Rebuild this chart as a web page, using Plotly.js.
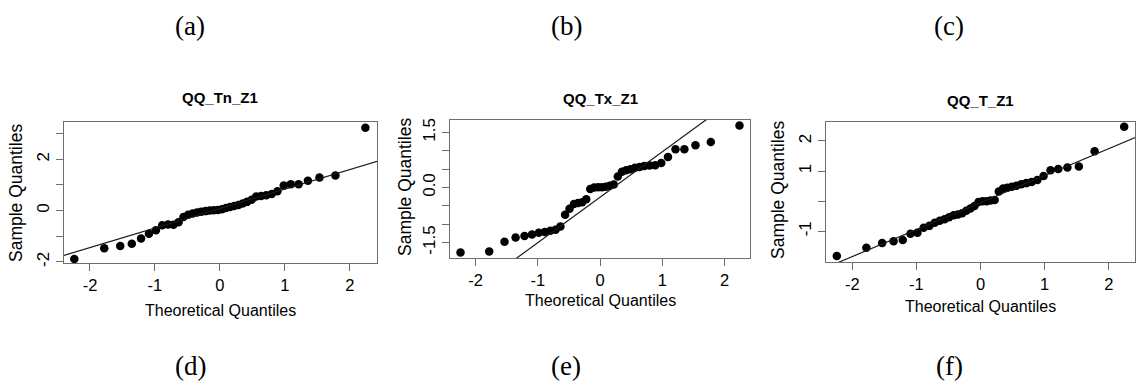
<!DOCTYPE html>
<html>
<head>
<meta charset="utf-8">
<script src="https://cdn.plot.ly/plotly-3.0.1.min.js"></script>
<style>
  html, body { margin: 0; padding: 0; background: #fff; }
  #chart { width: 1137px; height: 389px; }
</style>
</head>
<body>
<div id="chart"></div>
<script>
// Normal theoretical quantiles for 40 observations
const theoretical = [-2.241, -1.780, -1.534, -1.356, -1.213, -1.092, -0.984, -0.887, -0.798, -0.714,
                     -0.636, -0.561, -0.489, -0.419, -0.352, -0.286, -0.221, -0.157, -0.094, -0.031,
                      0.031,  0.094,  0.157,  0.221,  0.286,  0.352,  0.419,  0.489,  0.561,  0.636,
                      0.714,  0.798,  0.887,  0.984,  1.092,  1.213,  1.356,  1.534,  1.780,  2.241];

// Sorted sample values for each series
const sampleTn = [-1.88, -1.47, -1.38, -1.29, -1.09, -0.90, -0.76, -0.57, -0.54, -0.55,
                  -0.45, -0.25, -0.16, -0.11, -0.07, -0.04, -0.02,  0.00,  0.01,  0.02,
                   0.05,  0.10,  0.14,  0.18,  0.22,  0.28,  0.34,  0.42,  0.55,  0.57,
                   0.60,  0.65,  0.75,  0.98,  1.03,  1.03,  1.16,  1.29,  1.37,  3.23];
const sampleTx = [-1.77, -1.74, -1.48, -1.36, -1.32, -1.28, -1.23, -1.21, -1.18, -1.15,
                  -1.06, -0.74, -0.58, -0.45, -0.42, -0.40, -0.32, -0.04,  0.00,  0.01,
                   0.01,  0.02,  0.05,  0.08,  0.30,  0.43,  0.47,  0.50,  0.54,  0.56,
                   0.59,  0.60,  0.61,  0.67,  0.83,  1.04,  1.04,  1.15,  1.24,  1.69];
const sampleT  = [-1.82, -1.55, -1.39, -1.33, -1.29, -1.08, -1.05, -0.88, -0.82, -0.72,
                  -0.65, -0.60, -0.53, -0.47, -0.44, -0.40, -0.32, -0.24, -0.16, -0.03,
                   0.00,  0.00,  0.02,  0.04,  0.32,  0.42,  0.45,  0.48,  0.51,  0.56,
                   0.60,  0.64,  0.70,  0.84,  1.03,  1.07,  1.12,  1.15,  1.66,  2.47];

const panelTitles = ['QQ_Tn_Z1', 'QQ_Tx_Z1', 'QQ_T_Z1'];
const panelLetters = ['(a)', '(b)', '(c)', '(d)', '(e)', '(f)'];

// Reference line of each panel: intercept and slope
const lineIntercepts = [0.08, -0.265, -0.048];
const lineSlopes = [0.76, 1.238, 0.896];

const xTickVals = [-2, -1, 0, 1, 2];
const xTickText = ['-2', '-1', '0', '1', '2'];
const yTickValsTn = [-2, -1, 0, 1, 2, 3];
const yTickTextTn = ['-2', '', '0', '', '2', ''];
const yTickValsTx = [-1.5, -1, -0.5, 0, 0.5, 1, 1.5];
const yTickTextTx = ['-1.5', '', '', '0.0', '', '', '1.5'];
const yTickValsT = [-1, 0, 1, 2];
const yTickTextT = ['-1', '', '1', '2'];

// ---- layout geometry (pixels) ----
const W = 1137, H = 389;
const px = v => v / W;
const py = v => 1 - v / H;

const panels = [
  { samples: sampleTn, box: [64, 377, 122, 263], xr: [-2.40, 2.42], yr: [-2.04, 3.45],
    yv: yTickValsTn, yt: yTickTextTn, titleY: 97, xLabY: 310, yLabX: 16, yLabY: 193 },
  { samples: sampleTx, box: [450, 750, 120, 258], xr: [-2.41, 2.41], yr: [-1.92, 1.84],
    yv: yTickValsTx, yt: yTickTextTx, titleY: 99, xLabY: 300, yLabX: 405, yLabY: 187 },
  { samples: sampleT, box: [826, 1135, 122, 262], xr: [-2.41, 2.41], yr: [-2.02, 2.63],
    yv: yTickValsT, yt: yTickTextT, titleY: 100, xLabY: 306, yLabX: 778, yLabY: 190 }
];

const FONT = 'Liberation Sans, Arial, Helvetica, sans-serif';
const AXIS_GREY = '#6e6e6e';

const traces = [];
const layout = {
  width: W, height: H,
  margin: { l: 0, r: 0, t: 0, b: 0 },
  paper_bgcolor: '#fff', plot_bgcolor: '#fff',
  showlegend: false,
  annotations: [],
  font: { family: FONT, color: '#000' }
};

panels.forEach((p, i) => {
  const n = i + 1;
  const xa = 'xaxis' + (n === 1 ? '' : n);
  const ya = 'yaxis' + (n === 1 ? '' : n);
  const xref = 'x' + (n === 1 ? '' : n);
  const yref = 'y' + (n === 1 ? '' : n);

  const [l, r, t, b] = p.box;

  layout[xa] = {
    domain: [px(l), px(r)], range: p.xr, anchor: yref,
    showgrid: false, zeroline: false,
    showline: true, mirror: true, linecolor: AXIS_GREY, linewidth: 1,
    ticks: 'outside', ticklen: 7, tickcolor: AXIS_GREY, tickwidth: 1,
    tickvals: xTickVals, ticktext: xTickText,
    tickfont: { family: FONT, size: 16.5, color: '#000' }
  };
  layout[ya] = {
    domain: [py(b), py(t)], range: p.yr, anchor: xref,
    showgrid: false, zeroline: false,
    showline: true, mirror: true, linecolor: AXIS_GREY, linewidth: 1,
    ticks: 'outside', ticklen: 7, tickcolor: AXIS_GREY, tickwidth: 1,
    tickvals: p.yv, ticktext: p.yt, tickangle: -90,
    tickfont: { family: FONT, size: 17, color: '#000' }
  };

  // sample points
  traces.push({
    type: 'scatter', mode: 'markers', xaxis: xref, yaxis: yref,
    x: theoretical, y: p.samples,
    marker: { color: '#000', size: 8.5, line: { width: 0 } },
    hoverinfo: 'skip'
  });

  // reference line across the axis range
  const lx = [p.xr[0] - 1, p.xr[1] + 1];
  traces.push({
    type: 'scatter', mode: 'lines', xaxis: xref, yaxis: yref,
    x: lx, y: lx.map(v => lineIntercepts[i] + lineSlopes[i] * v),
    line: { color: '#1a1a1a', width: 1.2 },
    hoverinfo: 'skip'
  });

  const cx = px((l + r) / 2);

  // panel title
  layout.annotations.push({
    xref: 'paper', yref: 'paper', x: cx, y: py(p.titleY),
    xanchor: 'center', yanchor: 'middle', showarrow: false,
    text: '<b>' + panelTitles[i] + '</b>',
    font: { family: FONT, size: 15, color: '#000' }
  });
  // x axis title
  layout.annotations.push({
    xref: 'paper', yref: 'paper', x: cx, y: py(p.xLabY),
    xanchor: 'center', yanchor: 'middle', showarrow: false,
    text: 'Theoretical Quantiles',
    font: { family: FONT, size: 16, color: '#000' }
  });
  // y axis title
  layout.annotations.push({
    xref: 'paper', yref: 'paper', x: px(p.yLabX), y: py(p.yLabY),
    xanchor: 'center', yanchor: 'middle', showarrow: false, textangle: -90,
    text: 'Sample Quantiles',
    font: { family: FONT, size: 17.5, color: '#000' }
  });
});

// sub-figure letters above and below the row
const letterX = [190, 566, 949];
panelLetters.forEach((txt, k) => {
  layout.annotations.push({
    xref: 'paper', yref: 'paper', x: px(letterX[k % 3]), y: py(k < 3 ? 26 : 366),
    xanchor: 'center', yanchor: 'middle', showarrow: false,
    text: txt,
    font: { family: 'Liberation Serif, Times New Roman, serif', size: 27, color: '#000' }
  });
});

Plotly.newPlot('chart', traces, layout, { staticPlot: true, displayModeBar: false });
</script>
</body>
</html>
